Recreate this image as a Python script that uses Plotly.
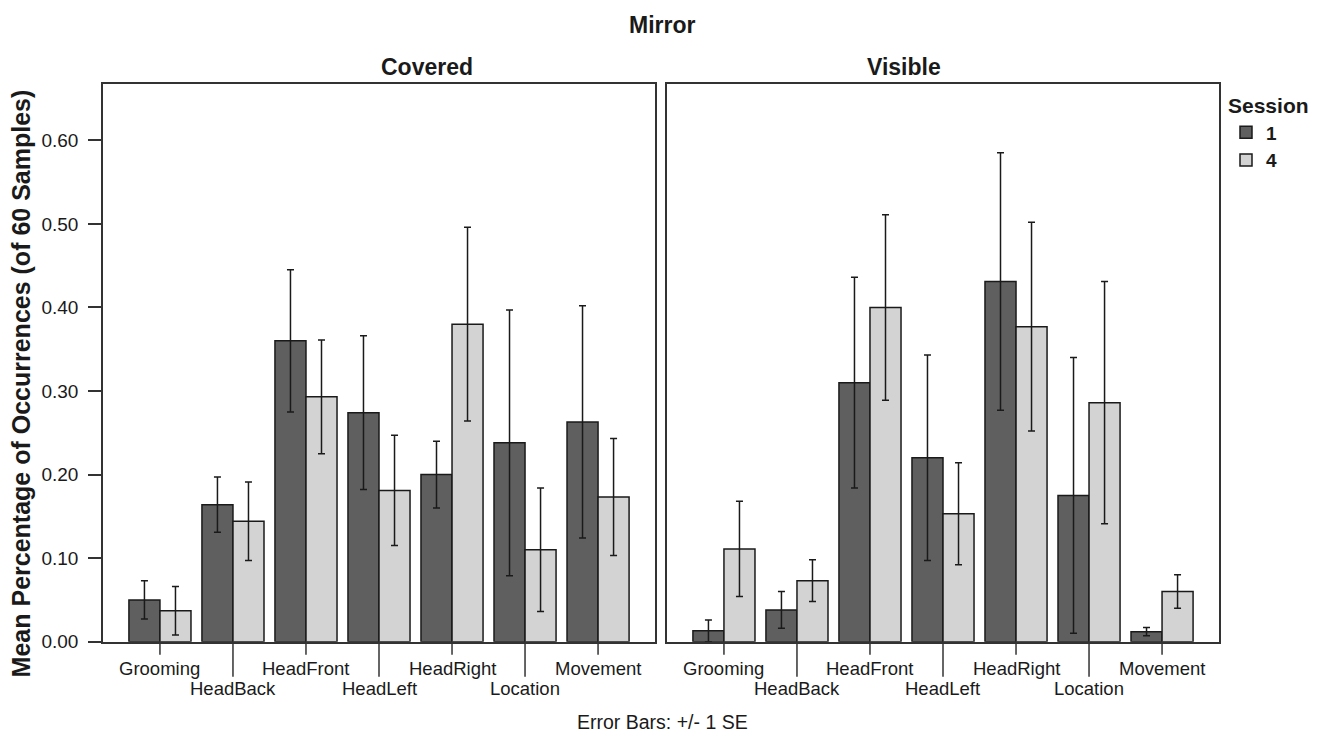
import plotly.graph_objects as go

categories = ["Grooming", "HeadBack", "HeadFront", "HeadLeft", "HeadRight", "Location", "Movement"]
sessions = ["1", "4"]

covered_s1 = [0.050, 0.164, 0.360, 0.274, 0.200, 0.238, 0.263]
covered_s1_se = [0.023, 0.033, 0.085, 0.092, 0.040, 0.159, 0.139]
covered_s4 = [0.037, 0.144, 0.293, 0.181, 0.380, 0.110, 0.173]
covered_s4_se = [0.029, 0.047, 0.068, 0.066, 0.116, 0.074, 0.070]

visible_s1 = [0.013, 0.038, 0.310, 0.220, 0.431, 0.175, 0.012]
visible_s1_se = [0.013, 0.022, 0.126, 0.123, 0.154, 0.165, 0.005]
visible_s4 = [0.111, 0.073, 0.400, 0.153, 0.377, 0.286, 0.060]
visible_s4_se = [0.057, 0.025, 0.111, 0.061, 0.125, 0.145, 0.020]

yticks = [0.0, 0.1, 0.2, 0.3, 0.4, 0.5, 0.6]
ytick_text = ["0.00", "0.10", "0.20", "0.30", "0.40", "0.50", "0.60"]

DARK = "#5f5f5f"
LIGHT = "#d3d3d3"
INK = "#1a1a1a"
FONT = "Liberation Sans, Arial, sans-serif"

W, H = 1325, 734
VS = 0.984  # observed vertical scale of the captured page
def px(x):
    return x / W
def py(y):
    return 1 - y / (H * VS)

fig = go.Figure()

panels = [
    ("x", "y", covered_s1, covered_s1_se, covered_s4, covered_s4_se, True),
    ("x2", "y2", visible_s1, visible_s1_se, visible_s4, visible_s4_se, False),
]
for xa, ya, s1, s1se, s4, s4se, show in panels:
    for name, vals, se, col in [(sessions[0], s1, s1se, DARK), (sessions[1], s4, s4se, LIGHT)]:
        fig.add_trace(go.Bar(
            x=categories, y=vals, name=name, xaxis=xa, yaxis=ya,
            marker=dict(color=col, line=dict(color=INK, width=1.5)),
            error_y=dict(type="data", array=se, visible=True, color=INK, thickness=1.5, width=3.5),
            showlegend=show, legendgroup=name,
        ))

ydom = [py(641), py(84)]
yrange = [0, 0.6673]
xrange = [-0.78, 6.78]
common_x = dict(type="category", range=xrange, showticklabels=False, ticks="", showline=True,
                linecolor="#333333", linewidth=1.5, mirror=True, showgrid=False, zeroline=False,
                categoryorder="array", categoryarray=categories)
fig.update_layout(
    xaxis=dict(domain=[px(103), px(655)], anchor="y", **common_x),
    xaxis2=dict(domain=[px(667), px(1219)], anchor="y2", **common_x),
    yaxis=dict(domain=ydom, range=yrange, tickvals=yticks, ticktext=ytick_text, ticks="outside",
               ticklen=13, tickwidth=1.5, tickcolor="#333333", showline=True, linecolor="#333333",
               linewidth=1.5, mirror=True, showgrid=False, zeroline=False, ticklabelstandoff=6,
               tickfont=dict(family=FONT, size=19, color=INK)),
    yaxis2=dict(domain=ydom, range=yrange, anchor="x2", showticklabels=False, ticks="",
                showline=True, linecolor="#333333", linewidth=1.5, mirror=True,
                showgrid=False, zeroline=False),
    barmode="group", bargap=0.15, bargroupgap=0,
    width=W, height=H, autosize=False, margin=dict(l=0, r=0, t=0, b=0),
    plot_bgcolor="white", paper_bgcolor="white",
    font=dict(family=FONT, color=INK),
    legend=dict(x=px(1226), y=py(86), xanchor="left", yanchor="top",
                title=dict(text="<b>Session</b>", font=dict(size=21, family=FONT)),
                font=dict(size=19, family=FONT, weight="bold"), itemwidth=30, tracegroupgap=0,
                bgcolor="rgba(0,0,0,0)"),
)

ann = []
shapes = []
for xa in ["x", "x2"]:
    for i, c in enumerate(categories):
        row2 = i % 2 == 1
        ann.append(dict(text=c, x=c, xref=xa, y=py(688 if row2 else 668), yref="paper",
                        showarrow=False, xanchor="center", yanchor="middle",
                        font=dict(size=18.5, family=FONT, color=INK)))
        shapes.append(dict(type="line", xref=xa, yref="paper", x0=i, x1=i,
                           y0=py(641), y1=py(676 if row2 else 654),
                           line=dict(color="#333333", width=1.5)))

ann += [
    dict(text="<b>Mirror</b>", x=px(662), y=py(25), xref="paper", yref="paper", showarrow=False,
         yanchor="middle", font=dict(size=23, family=FONT)),
    dict(text="<b>Covered</b>", x=px(379), y=py(67), xref="paper", yref="paper", showarrow=False,
         yanchor="middle", font=dict(size=23, family=FONT)),
    dict(text="<b>Visible</b>", x=px(943), y=py(67), xref="paper", yref="paper", showarrow=False,
         yanchor="middle", font=dict(size=23, family=FONT)),
    dict(text="<b>Mean Percentage of Occurrences (of 60 Samples)</b>", x=px(21), y=py(383),
         xref="paper", yref="paper", showarrow=False, textangle=-90, xanchor="center",
         yanchor="middle", font=dict(size=25, family=FONT)),
    dict(text="Error Bars: +/- 1 SE", x=px(662), y=py(721), xref="paper", yref="paper",
         showarrow=False, yanchor="middle", font=dict(size=19.5, family=FONT)),
]
fig.update_layout(annotations=ann, shapes=shapes)

post = (
    "document.documentElement.style.margin='0';"
    "document.documentElement.style.padding='0';"
    "document.documentElement.style.overflow='hidden';"
    "document.body.style.margin='0';"
    "document.body.style.padding='0';"
    "document.body.style.overflow='hidden';"
)
fig.write_html("out.html", config={"displayModeBar": False, "responsive": False},
               post_script=post)
